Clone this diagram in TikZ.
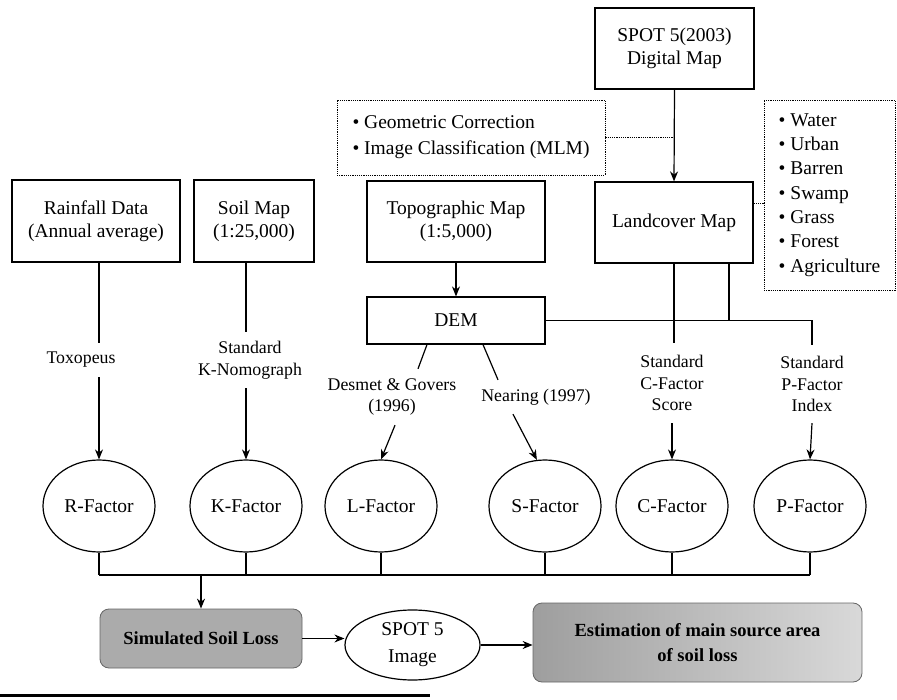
\documentclass[tikz,border=0pt]{standalone}
\usepackage{fontspec}
\setmainfont{Liberation Serif}
\usetikzlibrary{arrows.meta,calc,shapes.geometric}
\begin{document}
\begin{tikzpicture}[x=1pt,y=-1pt,
  txt/.style={font=\fontsize{19.5}{23}\selectfont, align=center},
  lbl/.style={font=\fontsize{17.8}{21.5}\selectfont, align=center, inner sep=0},
  box/.style={draw, line width=1.2pt, inner sep=0, txt},
  dbox/.style={draw, line width=0.9pt, dash pattern=on 1.2pt off 1pt, inner sep=0},
  fac/.style={draw, ellipse, line width=1.2pt, inner sep=0, minimum width=112pt, minimum height=92pt, txt},
  conn/.style={line width=1.2pt},
  arr/.style={conn, -{Stealth[length=10pt,width=8pt]}},
  dconn/.style={line width=0.9pt, dash pattern=on 1.2pt off 1pt},
  shadebox/.style={draw=black!60, line width=0.8pt, rounded corners=9pt, inner sep=0, font=\fontsize{18.5}{25}\selectfont\bfseries, align=center}
]
\fill[white] (0,0) rectangle (897,700);
\useasboundingbox (0,0) rectangle (897,700);

% top boxes
\node[box, minimum width=159pt, minimum height=81pt] (spot) at (674.5,48.5) {SPOT 5(2003)\\Digital Map};
\node[dbox, minimum width=268pt, minimum height=75pt, align=left, font=\fontsize{19.5}{26}\selectfont] (geo) at (471,137.5) {• Geometric Correction\\• Image Classification (MLM)};
\node[box, minimum width=158pt, minimum height=81pt] (land) at (674,222.5) {Landcover Map};
\node[dbox, minimum width=131pt, minimum height=190pt, align=left, font=\fontsize{19.5}{24.3}\selectfont] (list) at (829.5,195) {• Water\\• Urban\\• Barren\\• Swamp\\• Grass\\• Forest\\• Agriculture};
\node[box, minimum width=168pt, minimum height=82pt] (rain) at (96,221) {Rainfall Data\\(Annual average)};
\node[box, minimum width=120pt, minimum height=82pt] (soil) at (254,221) {Soil Map\\(1:25,000)};
\node[box, minimum width=178pt, minimum height=81pt] (topo) at (456,221.5) {Topographic Map\\(1:5,000)};
\node[box, minimum width=178pt, minimum height=47pt] (dem) at (456,320.5) {DEM};

% factors
\node[fac] (rf) at (99,506) {R-Factor};
\node[fac] (kf) at (246,506) {K-Factor};
\node[fac] (lf) at (381,506) {L-Factor};
\node[fac] (sf) at (545,506) {S-Factor};
\node[fac] (cf) at (672,506) {C-Factor};
\node[fac] (pf) at (810,506) {P-Factor};

% labels
\node[lbl, minimum height=34pt] (tox) at (81,360) {Toxopeus};
\node[lbl, minimum height=56pt] (kn) at (250,360) {Standard\\K-Nomograph};
\node[lbl, minimum height=56pt] (des) at (392,397) {Desmet \& Govers\\(1996)};
\node[lbl, minimum height=34pt] (nea) at (536,397) {Nearing (1997)};
\node[lbl, minimum height=80pt] (cl) at (672,383) {Standard\\C-Factor\\Score};
\node[lbl, minimum height=78pt] (pl) at (812,384) {Standard\\P-Factor\\Index};

% connectors top
\draw[arr] (spot.south) -- (land.north);
\draw[dconn] (geo.east) -- (geo.east -| spot.south);
\coordinate (lc) at ($(land.east)+(0,-19)$);
\draw[dconn] (lc) -- (lc -| list.west);

\draw[conn] (rain.south -| rf.north) -- (tox.north -| rf.north);
\draw[arr] (tox.south -| rf.north) -- (rf.north);
\draw[conn] (soil.south -| kf.north) -- (kn.north -| kf.north);
\draw[arr] (kn.south -| kf.north) -- (kf.north);
\draw[arr] (topo.south) -- (dem.north);
\draw[conn] ($(dem.south)+(-29,0)$) -- ($(des.north)+(26,0)$);
\draw[arr] ($(des.south)+(3,0)$) -- (lf.north);
\draw[conn] ($(dem.south)+(27,0)$) -- ($(nea.north)+(-38,0)$);
\draw[arr] ($(nea.south)+(-23,0)$) -- (sf.100);

\draw[conn] (land.south) -- (land.south |- cl.north);
\draw[arr] (cl.south) -- (cf.north);
\coordinate (lp) at ($(land.south)+(55,0)$);
\draw[conn] (lp) -- (lp |- dem.east);
\draw[conn] (dem.east) -- (dem.east -| pl.north) -- (pl.north);
\draw[arr] (pl.south) -- (pf.north);

% bottom bus
\coordinate (bus) at (0,575);
\foreach \n in {rf,kf,lf,sf,cf,pf} \draw[conn] (\n.south) -- (\n.south |- bus);
\draw[conn] (bus -| rf.south) -- (bus -| pf.south);

\node[shadebox, fill=black!33, minimum width=202pt, minimum height=59pt] (sim) at (201,638.5) {Simulated Soil Loss};
\draw[arr] (bus -| sim.north) -- (sim.north);
\node[draw, ellipse, line width=1.2pt, inner sep=0, minimum width=135pt, minimum height=70pt, align=center, font=\fontsize{19.5}{27}\selectfont] (img) at (412.5,645) {SPOT 5\\Image};
\node[shadebox, left color=black!38, right color=black!15, minimum width=329pt, minimum height=79pt] (est) at (697.5,642.5) {Estimation of main source area\\of soil loss};
\draw[arr] (sim.east) -- (sim.east -| img.west);
\draw[arr] (img.east) -- (img.east -| est.west);

\fill (0,693.5) rectangle (430,696.5);
\end{tikzpicture}
\end{document}
